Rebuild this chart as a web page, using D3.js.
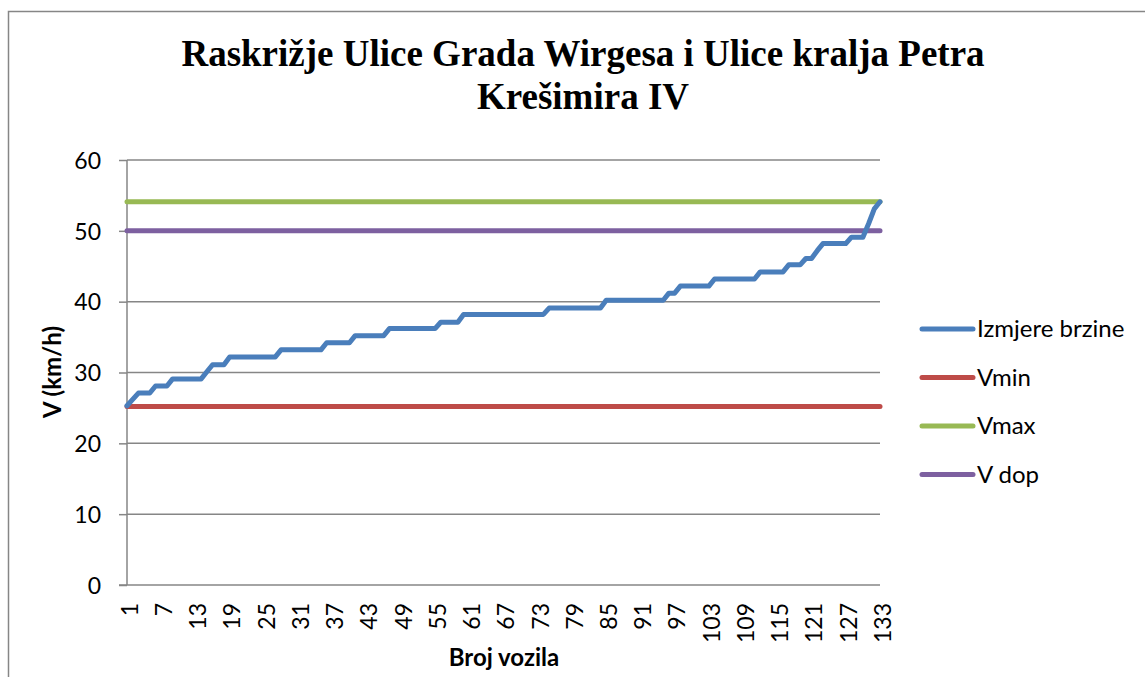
<!DOCTYPE html>
<meta charset="utf-8">
<style>
body { margin: 0; background: #fff; }
svg text { fill: #000; }
.tick text { font-family: Lato, "Open Sans", sans-serif; font-size: 23px; }
</style>
<svg width="1145" height="677"></svg>
<script src="https://cdn.jsdelivr.net/npm/d3@7/dist/d3.min.js"></script>
<script>

var speeds = [
  25.3, 26.2, 27.1, 27.1, 27.1, 28.1, 28.1, 28.1, 29.1, 29.1,
  29.1, 29.1, 29.1, 29.1, 30.1, 31.1, 31.1, 31.1, 32.2, 32.2,
  32.2, 32.2, 32.2, 32.2, 32.2, 32.2, 32.2, 33.2, 33.2, 33.2,
  33.2, 33.2, 33.2, 33.2, 33.2, 34.2, 34.2, 34.2, 34.2, 34.2,
  35.2, 35.2, 35.2, 35.2, 35.2, 35.2, 36.2, 36.2, 36.2, 36.2,
  36.2, 36.2, 36.2, 36.2, 36.2, 37.1, 37.1, 37.1, 37.1, 38.2,
  38.2, 38.2, 38.2, 38.2, 38.2, 38.2, 38.2, 38.2, 38.2, 38.2,
  38.2, 38.2, 38.2, 38.2, 39.1, 39.1, 39.1, 39.1, 39.1, 39.1,
  39.1, 39.1, 39.1, 39.1, 40.2, 40.2, 40.2, 40.2, 40.2, 40.2,
  40.2, 40.2, 40.2, 40.2, 40.2, 41.2, 41.2, 42.2, 42.2, 42.2,
  42.2, 42.2, 42.2, 43.2, 43.2, 43.2, 43.2, 43.2, 43.2, 43.2,
  43.2, 44.2, 44.2, 44.2, 44.2, 44.2, 45.2, 45.2, 45.2, 46.1,
  46.1, 47.2, 48.2, 48.2, 48.2, 48.2, 48.2, 49.1, 49.1, 49.1,
  51.0, 53.1, 54.1
];
var vehicles = speeds.map(function(d, i) { return i + 1; });

var vmin = 25.2;
var vmax = 54.1;
var vdop = 50;

var yTicks = [0, 10, 20, 30, 40, 50, 60];
var xTickLabels = vehicles.filter(function(d) { return (d - 1) % 6 === 0; });

var titleLines = ["Raskrižje Ulice Grada Wirgesa i Ulice kralja Petra", "Krešimira IV"];

var series = [
  {name: "Izmjere brzine", color: "#4A7EBB"},
  {name: "Vmin", color: "#BE4B48"},
  {name: "Vmax", color: "#98B954"},
  {name: "V dop", color: "#7D60A0"}
];

var svg = d3.select("svg");
var plotLeft = 127, plotRight = 880, plotTop = 160, plotBottom = 585;

// chart border
svg.append("path")
    .attr("d", "M8.5,700 V11.5 H1160")
    .attr("fill", "none")
    .attr("stroke", "#868686")
    .attr("stroke-width", 1.5);

var x = d3.scalePoint().domain(vehicles).range([plotLeft, plotRight]);
var y = d3.scaleLinear().domain([0, 60]).range([plotBottom, plotTop]);

// gridlines
svg.append("g").selectAll("line")
  .data(yTicks.filter(function(d) { return d > 0; }))
  .enter().append("line")
    .attr("x1", plotLeft).attr("x2", plotRight)
    .attr("y1", function(d) { return y(d); })
    .attr("y2", function(d) { return y(d); })
    .attr("stroke", "#868686")
    .attr("stroke-width", 1.5);

// y axis
var yAxis = svg.append("g")
    .attr("transform", "translate(" + plotLeft + ",0)")
    .call(d3.axisLeft(y).tickValues(yTicks).tickSize(8).tickPadding(18));
yAxis.selectAll("line, path").attr("stroke", "#868686").attr("stroke-width", 1.5);
yAxis.select(".domain").attr("d", "M0," + plotTop + "V" + plotBottom);
yAxis.selectAll(".tick text").attr("dy", "0.36em");

// x axis
var xAxis = svg.append("g")
    .attr("transform", "translate(0," + plotBottom + ")")
    .call(d3.axisBottom(x).tickValues(xTickLabels).tickSize(0).tickPadding(0));
xAxis.select(".domain").attr("d", "M" + (plotLeft - 8) + ",0H" + plotRight)
    .attr("stroke", "#868686").attr("stroke-width", 1.5);
xAxis.selectAll(".tick text")
    .attr("transform", "rotate(-90)")
    .attr("text-anchor", "end")
    .attr("x", -18)
    .attr("y", 2)
    .attr("dy", "0.36em");

// lines
var line = d3.line()
    .x(function(d, i) { return x(vehicles[i]); })
    .y(function(d) { return y(d); });

function flat(v) {
  return [[vehicles[0], v], [vehicles[vehicles.length - 1], v]];
}
var flatLine = d3.line()
    .x(function(d) { return x(d[0]); })
    .y(function(d) { return y(d[1]); });

svg.append("path").attr("d", flatLine(flat(vmin)))
    .attr("fill", "none").attr("stroke", series[1].color).attr("stroke-width", 5).attr("stroke-linecap", "round");
svg.append("path").attr("d", flatLine(flat(vmax)))
    .attr("fill", "none").attr("stroke", series[2].color).attr("stroke-width", 5).attr("stroke-linecap", "round");
svg.append("path").attr("d", flatLine(flat(vdop)))
    .attr("fill", "none").attr("stroke", series[3].color).attr("stroke-width", 5).attr("stroke-linecap", "round");
svg.append("path").attr("d", line(speeds))
    .attr("fill", "none").attr("stroke", series[0].color).attr("stroke-width", 5)
    .attr("stroke-linecap", "round").attr("stroke-linejoin", "round");

// title
svg.append("g").selectAll("text")
  .data(titleLines)
  .enter().append("text")
    .attr("x", 583)
    .attr("y", function(d, i) { return 66 + i * 43; })
    .attr("text-anchor", "middle")
    .attr("font-family", "'Liberation Serif', 'Times New Roman', serif")
    .attr("font-weight", "bold")
    .attr("font-size", 37)
    .text(function(d) { return d; });

// axis titles
svg.append("text")
    .attr("x", 504).attr("y", 666)
    .attr("text-anchor", "middle")
    .attr("font-family", "Lato, 'Open Sans', sans-serif")
    .attr("font-weight", "bold")
    .attr("font-size", 24)
    .text("Broj vozila");

svg.append("text")
    .attr("transform", "translate(61,372) rotate(-90)")
    .attr("text-anchor", "middle")
    .attr("font-family", "Lato, 'Open Sans', sans-serif")
    .attr("font-weight", "bold")
    .attr("font-size", 24)
    .text("V (km/h)");

// legend
var legend = svg.append("g").selectAll("g")
  .data(series)
  .enter().append("g")
    .attr("transform", function(d, i) { return "translate(920," + (329 + i * 48.5) + ")"; });
legend.append("line")
    .attr("x1", 2).attr("x2", 53)
    .attr("stroke", function(d) { return d.color; })
    .attr("stroke-width", 5)
    .attr("stroke-linecap", "round");
legend.append("text")
    .attr("x", 57)
    .attr("dy", "0.35em")
    .attr("font-family", "Lato, 'Open Sans', sans-serif")
    .attr("font-size", 24)
    .text(function(d) { return d.name; });

</script>
